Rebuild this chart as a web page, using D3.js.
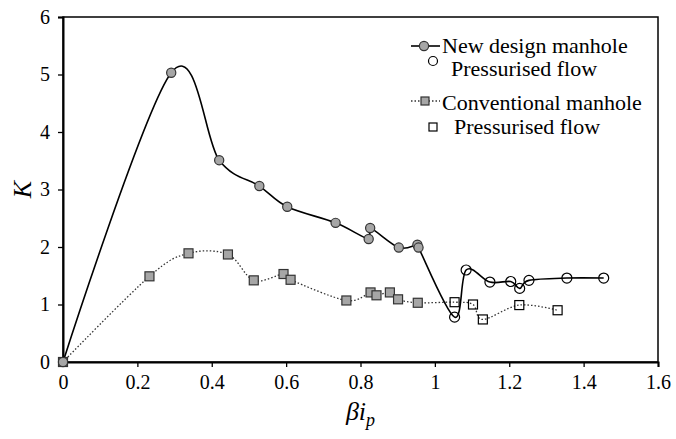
<html>
<head>
<script src="https://d3js.org/d3.v7.min.js"></script>
<style>
  body { margin: 0; background: #fff; }
</style>
</head>
<body>
<script>
// new design manhole (free-surface) and its pressurised points
var newX = [0, 0.291, 0.42, 0.528, 0.603, 0.733, 0.822, 0.826, 0.903, 0.953, 0.956];
var newK = [0, 5.03, 3.51, 3.06, 2.70, 2.42, 2.14, 2.33, 1.99, 2.04, 1.99];
var newPressX = [1.053, 1.084, 1.148, 1.204, 1.228, 1.253, 1.355, 1.454];
var newPressK = [0.78, 1.60, 1.39, 1.40, 1.28, 1.42, 1.46, 1.46];

// conventional manhole
var convX = [0, 0.2325, 0.3375, 0.4435, 0.513, 0.593, 0.612, 0.762, 0.827, 0.843, 0.879, 0.901, 0.954];
var convK = [0, 1.49, 1.89, 1.87, 1.42, 1.53, 1.43, 1.07, 1.21, 1.16, 1.21, 1.09, 1.03];
var convPressX = [1.053, 1.1025, 1.129, 1.227, 1.33];
var convPressK = [1.04, 1.00, 0.74, 0.99, 0.90];

var xTicks = [0, 0.2, 0.4, 0.6, 0.8, 1, 1.2, 1.4, 1.6];
var yTicks = [0, 1, 2, 3, 4, 5, 6];

var FONT = "'Liberation Serif', 'Times New Roman', serif";
var W = 676, H = 439;
var margin = {top: 17, right: 18, bottom: 77, left: 63};

var svg = d3.select("body").append("svg")
    .attr("width", W)
    .attr("height", H);
svg.append("rect").attr("width", W).attr("height", H).attr("fill", "#fff");

var x = d3.scaleLinear().domain([0, 1.6]).range([margin.left, W - margin.right]);
var y = d3.scaleLinear().domain([0, 6]).range([H - margin.bottom, margin.top]);

function pts(xs, ys) { return xs.map((v, i) => [v, ys[i]]); }
var newAll = pts(newX, newK).concat(pts(newPressX, newPressK));
var convAll = pts(convX, convK).concat(pts(convPressX, convPressK));

var line = d3.line()
    .curve(d3.curveCatmullRom.alpha(0))
    .x(d => x(d[0]))
    .y(d => y(d[1]));

// frame
svg.append("rect")
    .attr("x", x(0)).attr("y", y(6))
    .attr("width", x(1.6) - x(0)).attr("height", y(0) - y(6))
    .attr("fill", "none").attr("stroke", "#000").attr("stroke-width", 1.5);

// axes
var xAxis = svg.append("g")
    .attr("transform", "translate(0," + y(0) + ")")
    .call(d3.axisBottom(x).tickValues(xTicks).tickSize(5).tickPadding(8).tickFormat(d3.format("")));
var yAxis = svg.append("g")
    .attr("transform", "translate(" + x(0) + ",0)")
    .call(d3.axisLeft(y).tickValues(yTicks).tickSize(5).tickPadding(8).tickFormat(d3.format("")));
[xAxis, yAxis].forEach(g => {
    g.select(".domain").attr("stroke", "#000").attr("stroke-width", 2);
    g.selectAll(".tick line").attr("stroke", "#000").attr("stroke-width", 1.3);
    g.selectAll(".tick text").style("font-family", FONT).style("font-size", "20px");
});

// lines
svg.append("path").datum(convAll)
    .attr("d", line).attr("fill", "none")
    .attr("stroke", "#333").attr("stroke-width", 1.3)
    .attr("stroke-dasharray", "1.5,2");
svg.append("path").datum(newAll)
    .attr("d", line).attr("fill", "none")
    .attr("stroke", "#000").attr("stroke-width", 1.6);

// markers
svg.append("g").selectAll("rect")
    .data(pts(convX, convK)).enter().append("rect")
    .attr("x", d => x(d[0]) - 4.5).attr("y", d => y(d[1]) - 4.5)
    .attr("width", 9).attr("height", 9)
    .attr("fill", "#a6a6a6").attr("stroke", "#333").attr("stroke-width", 1.2);
svg.append("g").selectAll("rect")
    .data(pts(convPressX, convPressK)).enter().append("rect")
    .attr("x", d => x(d[0]) - 4.5).attr("y", d => y(d[1]) - 4.5)
    .attr("width", 9).attr("height", 9)
    .attr("fill", "none").attr("stroke", "#000").attr("stroke-width", 1.2);
svg.append("g").selectAll("circle")
    .data(pts(newX, newK)).enter().append("circle")
    .attr("cx", d => x(d[0])).attr("cy", d => y(d[1])).attr("r", 4.6)
    .attr("fill", "#a6a6a6").attr("stroke", "#333").attr("stroke-width", 1.2);
svg.append("g").selectAll("circle")
    .data(pts(newPressX, newPressK)).enter().append("circle")
    .attr("cx", d => x(d[0])).attr("cy", d => y(d[1])).attr("r", 5)
    .attr("fill", "none").attr("stroke", "#000").attr("stroke-width", 1.2);

// axis titles
svg.append("text")
    .attr("transform", "translate(22," + y(3) + ") rotate(-90)")
    .attr("text-anchor", "middle").attr("dy", "0.35em")
    .style("font-family", FONT).style("font-size", "26px").style("font-style", "italic")
    .text("K");
var xt = svg.append("text")
    .attr("x", x(0.8)).attr("y", 420)
    .attr("text-anchor", "middle")
    .style("font-family", FONT).style("font-size", "26px").style("font-style", "italic");
xt.append("tspan").text("βi");
xt.append("tspan").attr("dy", 6).style("font-size", "18px").text("p");

// legend
var lg = svg.append("g");
function ltext(xp, yp, s) {
    lg.append("text").attr("x", xp).attr("y", yp)
        .style("font-family", FONT).style("font-size", "22px").text(s);
}
lg.append("line").attr("x1", 411).attr("x2", 440).attr("y1", 46).attr("y2", 46)
    .attr("stroke", "#000").attr("stroke-width", 1.6);
lg.append("circle").attr("cx", 424).attr("cy", 46).attr("r", 4.6)
    .attr("fill", "#a6a6a6").attr("stroke", "#333").attr("stroke-width", 1.2);
ltext(442, 53, "New design manhole");
lg.append("circle").attr("cx", 433).attr("cy", 61).attr("r", 4.5)
    .attr("fill", "none").attr("stroke", "#000").attr("stroke-width", 1.2);
ltext(451, 76, "Pressurised flow");

lg.append("line").attr("x1", 411).attr("x2", 440).attr("y1", 101).attr("y2", 101)
    .attr("stroke", "#333").attr("stroke-width", 1.3).attr("stroke-dasharray", "1.5,2");
lg.append("rect").attr("x", 421).attr("y", 97).attr("width", 8).attr("height", 8)
    .attr("fill", "#a6a6a6").attr("stroke", "#333").attr("stroke-width", 1.2);
ltext(442, 110, "Conventional manhole");
lg.append("rect").attr("x", 429).attr("y", 123).attr("width", 8).attr("height", 8)
    .attr("fill", "none").attr("stroke", "#000").attr("stroke-width", 1.2);
ltext(454, 134, "Pressurised flow");
</script>
</body>
</html>
